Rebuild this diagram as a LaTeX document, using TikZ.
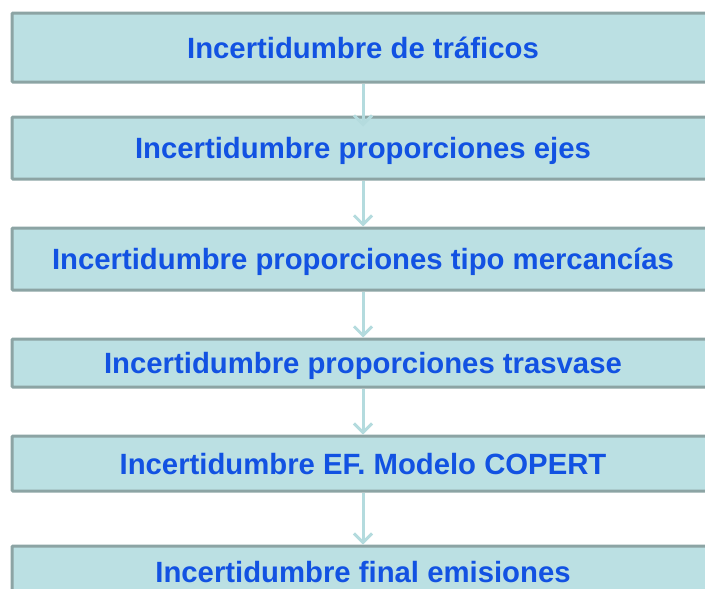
\documentclass[tikz,border=0pt]{standalone}
\usepackage{fontspec}
\setmainfont{Liberation Sans}
\usepackage{tikz}
\usetikzlibrary{arrows.meta}
\usepackage{xcolor}
\definecolor{boxfill}{RGB}{187,224,227}
\definecolor{boxline}{RGB}{140,164,164}
\definecolor{linkcol}{RGB}{180,219,222}
\definecolor{textblue}{RGB}{18,82,226}

\begin{document}
\begin{tikzpicture}[x=1pt, y=-1pt]
        % Styles
        \tikzset{
          stage/.style={
            rectangle,
            draw=boxline, fill=boxfill, line width=3pt,
            rounded corners=1pt,
            minimum width=702pt, inner sep=0pt,
            text=textblue,
            font=\fontsize{29.3}{35}\selectfont\bfseries,
            text height=21pt, text depth=0pt
          },
          link/.style={
            draw=linkcol, line width=3pt,
            -{Straight Barb[length=9pt, width=18pt]}
          }
        }

        % page frame (boxes run off the right and bottom edges)
        \useasboundingbox (0,0) rectangle (705,589);
        \clip (0,0) rectangle (705,589);

        % stages, top to bottom
        \node[stage, minimum height=69pt] (trafico)  at (363,47.5)  {Incertidumbre de tráficos};
        \node[stage, minimum height=62pt] (ejes)     at (363,148)   {Incertidumbre proporciones ejes};
        \node[stage, minimum height=62pt] (mercan)   at (363,259)   {Incertidumbre proporciones tipo mercancías};
        \node[stage, minimum height=48pt] (trasvase) at (363,363)   {Incertidumbre proporciones trasvase};
        \node[stage, minimum height=55pt] (copert)   at (363,463.5) {Incertidumbre EF. Modelo COPERT};
        \node[stage, minimum height=52pt] (final)    at (363,572)   {Incertidumbre final emisiones};

        % arrows between stages
        \draw[link, shorten >=-11pt] (trafico) -- (ejes);
        \draw[link] (ejes)     -- (mercan);
        \draw[link] (mercan)   -- (trasvase);
        \draw[link] (trasvase) -- (copert);
        \draw[link] (copert)   -- (final);
\end{tikzpicture}
\end{document}
